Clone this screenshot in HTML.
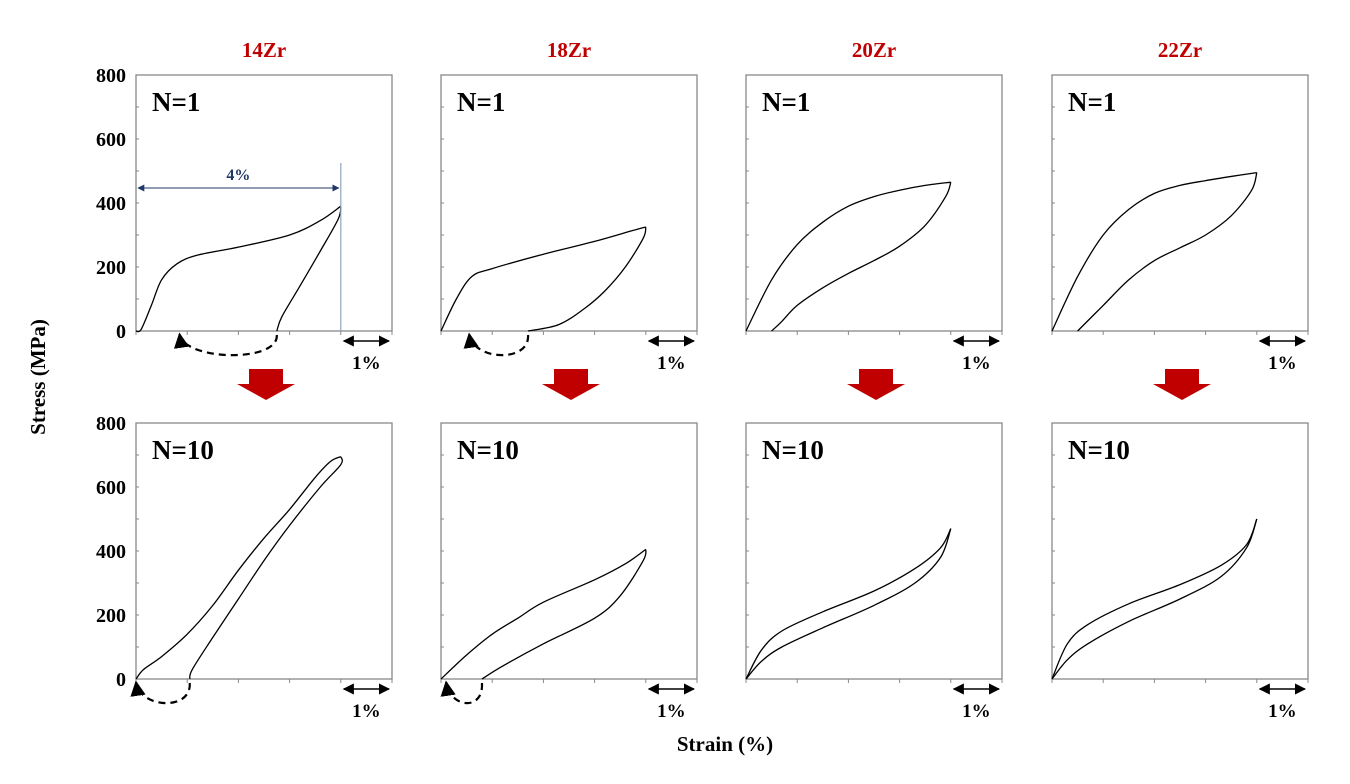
<!DOCTYPE html>
<html><head><meta charset="utf-8">
<style>
html,body{margin:0;padding:0;background:#fff;}
svg{display:block;font-family:"Liberation Serif",serif;}
</style></head>
<body>
<svg id="fig" width="1350" height="784" viewBox="0 0 1350 784" xmlns="http://www.w3.org/2000/svg">
<text x="45" y="377" transform="rotate(-90 45 377)" text-anchor="middle" font-size="21" font-weight="bold">Stress (MPa)</text>
<text x="725" y="751" text-anchor="middle" font-size="21" font-weight="bold">Strain (%)</text>
</svg>
<script>
const alloys = ["14Zr","18Zr","20Zr","22Zr"];
const cycles = ["N=1","N=10"];
const yTicks = [0,200,400,600,800];
// [strain %, stress MPa]
const load14N1 = [[0,0],[0.1,5],[0.3,80],[0.5,160],[0.8,210],[1.2,237],[2,262],[3,300],[3.6,345],[4,390]];
const unload14N1 = [[4,390],[3.95,350],[3.6,250],[3.2,140],[2.85,45],[2.75,0]];
const load14N10 = [[0,0],[0.15,30],[0.5,70],[1,140],[1.5,230],[2,340],[2.5,440],[3,530],[3.5,630],[3.8,680],[4,695]];
const unload14N10 = [[4,695],[4,670],[3.6,600],[3,480],[2.5,370],[2,250],[1.5,130],[1.1,30],[1.05,0]];
const load18N1 = [[0,0],[0.3,100],[0.6,170],[1,195],[2,240],[3,280],[3.7,312],[4,325]];
const unload18N1 = [[4,325],[3.95,290],[3.6,200],[3.2,125],[2.8,70],[2.3,20],[1.7,0]];
const load18N10 = [[0,0],[0.5,75],[1,140],[1.5,190],[2,240],[3,310],[3.6,360],[4,405]];
const unload18N10 = [[4,405],[3.95,370],[3.5,260],[3,190],[2,110],[1.2,40],[0.8,0]];
const load20N1 = [[0,0],[0.5,160],[1,270],[1.5,340],[2,390],[2.5,420],[3,440],[3.5,455],[4,465]];
const unload20N1 = [[4,465],[3.9,420],[3.5,330],[3,265],[2.5,220],[2,180],[1.5,135],[1,80],[0.7,30],[0.5,0]];
const load20N10 = [[0,0],[0.3,90],[0.7,150],[1.5,210],[2.5,275],[3.3,345],[3.8,410],[4,470]];
const unload20N10 = [[4,470],[3.8,380],[3.3,300],[2.5,230],[1.5,160],[0.7,100],[0.3,55],[0,0]];
const load22N1 = [[0,0],[0.5,170],[1,300],[1.5,380],[2,430],[2.5,455],[3,470],[3.5,483],[4,495]];
const unload22N1 = [[4,495],[3.9,440],[3.5,360],[3,300],[2.5,260],[2,220],[1.5,160],[1,80],[0.5,0]];
const load22N10 = [[0,0],[0.3,110],[0.7,170],[1.5,235],[2.5,295],[3.3,355],[3.8,420],[4,500]];
const unload22N10 = [[4,500],[3.8,410],[3.3,320],[2.5,250],[1.5,180],[0.7,110],[0.3,60],[0,0]];
const loops = [[load14N1,unload14N1],[load18N1,unload18N1],[load20N1,unload20N1],[load22N1,unload22N1],
               [load14N10,unload14N10],[load18N10,unload18N10],[load20N10,unload20N10],[load22N10,unload22N10]];
const arcs = [[2.75,0.85],[1.7,0.55],null,null,[1.05,0],[0.8,0.1],null,null];

const svg = document.getElementById('fig');
const NS = "http://www.w3.org/2000/svg";
const panelX = [136,441,746,1052];
const panelTop = [75,423];
const W = 256, H = 256;
function mk(tag, attrs, parent){const e=document.createElementNS(NS,tag);for(const k in attrs)e.setAttribute(k,attrs[k]);(parent||svg).appendChild(e);return e;}
function smooth(pts){
  let d=`M${pts[0][0]},${pts[0][1]}`;
  for(let i=0;i<pts.length-1;i++){
    const p0=pts[Math.max(i-1,0)],p1=pts[i],p2=pts[i+1],p3=pts[Math.min(i+2,pts.length-1)];
    const c1=[p1[0]+(p2[0]-p0[0])/6,p1[1]+(p2[1]-p0[1])/6];
    const c2=[p2[0]-(p3[0]-p1[0])/6,p2[1]-(p3[1]-p1[1])/6];
    d+=` C${c1[0]},${c1[1]} ${c2[0]},${c2[1]} ${p2[0]},${p2[1]}`;
  }
  return d;
}
const defs = mk('defs',{});
const m1 = mk('marker',{id:'ah',viewBox:'0 0 10 10',refX:'9',refY:'5',markerWidth:'7',markerHeight:'7',orient:'auto-start-reverse'},defs);
mk('path',{d:'M0,0 L10,5 L0,10 z',fill:'#000'},m1);
const m2 = mk('marker',{id:'ahb',viewBox:'0 0 10 10',refX:'9',refY:'5',markerWidth:'7',markerHeight:'7',orient:'auto-start-reverse'},defs);
mk('path',{d:'M0,0 L10,5 L0,10 z',fill:'#1f3864'},m2);

alloys.forEach((a,c)=>{
  const t = mk('text',{x:panelX[c]+128,y:57,'text-anchor':'middle','font-size':'21','font-weight':'bold',fill:'#c00000'});
  t.textContent=a;
  
  
  const ar = mk('path',{d:`M${panelX[c]+113},369 h34 v15 h12 l-29,16 l-29,-16 h12 z`,fill:'#c00000'});
  
  
});

for(let r=0;r<2;r++){
  for(let c=0;c<4;c++){
    const x0=panelX[c], y0=panelTop[r];
    const g = mk('g',{});
    
    
    const sx=v=>x0+v*W/5, sy=v=>y0+H-v*H/800;
    mk('rect',{x:x0,y:y0,width:W,height:H,fill:'none',stroke:'#888','stroke-width':'1.3'},g);
    for(let i=0;i<=8;i++) mk('line',{x1:x0,x2:x0+3,y1:sy(i*100),y2:sy(i*100),stroke:'#888'},g);
    for(let i=0;i<=5;i++) mk('line',{x1:sx(i),x2:sx(i),y1:y0+H,y2:y0+H+4,stroke:'#888'},g);
    if(c===0){
      yTicks.forEach(v=>{
        const tt=mk('text',{x:x0-10,y:sy(v)+7,'text-anchor':'end','font-size':'20','font-weight':'bold'},g);
        tt.textContent=v;
        
        
      });
    }
    const lab=mk('text',{x:x0+16,y:y0+36,'font-size':'27','font-weight':'bold'},g);
    lab.textContent=cycles[r];
    
    
    const [ld,ul]=loops[r*4+c];
    const pl=mk('path',{d:smooth(ld.map(p=>[sx(p[0]),sy(p[1])])),fill:'none',stroke:'#000','stroke-width':'1.3'},g);
    
    
    const pu=mk('path',{d:smooth(ul.map(p=>[sx(p[0]),sy(p[1])])),fill:'none',stroke:'#000','stroke-width':'1.3'},g);
    
    
    const arc=arcs[r*4+c];
    if(arc){
      const xa=sx(arc[0]), xb=sx(arc[1]), yb=y0+H;
      const ad=mk('path',{d:`M${xa},${yb+4} C${xa+2},${yb+32} ${xb+4},${yb+30} ${xb},${yb+3}`,fill:'none',stroke:'#000','stroke-width':'2.2','stroke-dasharray':'7,5','marker-end':'url(#ah)'},g);
      
      
    }
    const sc=mk('line',{x1:sx(4)+3,x2:sx(5)-3,y1:y0+H+10,y2:y0+H+10,stroke:'#000','stroke-width':'1.6','marker-start':'url(#ah)','marker-end':'url(#ah)'},g);
    
    
    const st=mk('text',{x:sx(4.5),y:y0+H+38,'text-anchor':'middle','font-size':'19','font-weight':'bold'},g);
    st.textContent='1%';
    
    
    if(r===0&&c===0){
      mk('line',{x1:sx(4),x2:sx(4),y1:163,y2:y0+H,stroke:'#8fa3c0','stroke-width':'1.2'},g);
      const a4=mk('line',{x1:x0+2,x2:sx(4)-2,y1:188,y2:188,stroke:'#1f3864','stroke-width':'1','marker-start':'url(#ahb)','marker-end':'url(#ahb)'},g);
      
      
      const t4=mk('text',{x:sx(2),y:180,'text-anchor':'middle','font-size':'16','font-weight':'bold',fill:'#1f3864'},g);
      t4.textContent='4%';
      
      
    }
  }
}
</script>
</body></html>
